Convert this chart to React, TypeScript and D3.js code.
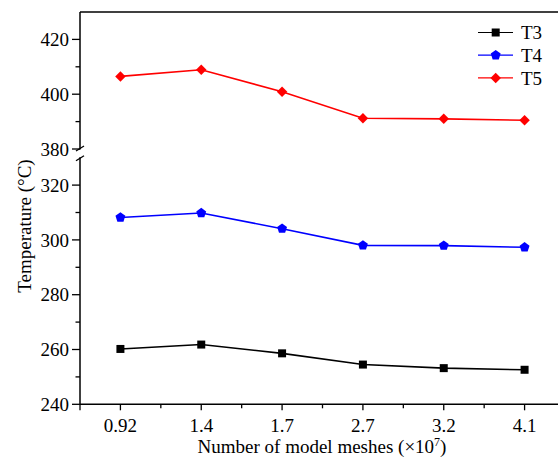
import React from "react";
import * as d3 from "d3";

const categories = ["0.92", "1.4", "1.7", "2.7", "3.2", "4.1"];
const seriesNames = ["T3", "T4", "T5"];
const t3 = [260.2, 261.8, 258.6, 254.5, 253.2, 252.6];
const t4 = [308.2, 309.8, 304.1, 298.0, 297.9, 297.3];
const t5 = [406.5, 408.9, 400.9, 391.2, 391.0, 390.5];
const upperTicks = [380, 400, 420];
const lowerTicks = [240, 260, 280, 300, 320];
const upperMinor = [390, 410];
const lowerMinor = [250, 270, 290, 310];

const W = 558;
const H = 460;
const FONT = "'Liberation Serif', 'Times New Roman', serif";

export default function App() {
  const left = 80;
  const top = 12;
  const bottom = 404.3;
  const breakTop = 149;
  const breakBottom = 157.7;

  const x = d3.scalePoint<string>().domain(categories).range([left, left + 485]).padding(0.5);
  const step = x.step();
  const yU = d3.scaleLinear().domain([380, 430]).range([breakTop, top]);
  const yL = d3.scaleLinear().domain([240, 330]).range([bottom, breakBottom]);

  const series = [
    { name: seriesNames[0], values: t3, color: "#000000", scale: yL, marker: "square" },
    { name: seriesNames[1], values: t4, color: "#0000ff", scale: yL, marker: "pentagon" },
    { name: seriesNames[2], values: t5, color: "#ff0000", scale: yU, marker: "diamond" },
  ];

  const symbolPath = (m: string) => {
    if (m === "square") return d3.symbol(d3.symbolSquare, 64)();
    if (m === "diamond") return d3.symbol(d3.symbolDiamond2, 70)();
    // pentagon
    const r = 5.2;
    const pts = d3.range(5).map((i) => {
      const a = -Math.PI / 2 + (i * 2 * Math.PI) / 5;
      return [r * Math.cos(a), r * Math.sin(a)] as [number, number];
    });
    return "M" + pts.map((p) => p.join(",")).join("L") + "Z";
  };

  const line = (s: any) =>
    d3
      .line<number>()
      .x((_, i) => x(categories[i]) as number)
      .y((v) => s.scale(v))(s.values) as string;

  const minorX = categories.map((c) => (x(c) as number) + step / 2).filter((v) => v < W);

  return (
    <svg width={W} height={H} style={{ position: "absolute", left: 0, top: 0, background: "#fff" }} fontFamily={FONT}>
      <rect width={W} height={H} fill="#fff" />
      {/* frame */}
      <line x1={left} x2={W} y1={top} y2={top} stroke="#000" strokeWidth={1.5} />
      <line x1={left} x2={W} y1={bottom} y2={bottom} stroke="#000" strokeWidth={1.5} />
      <line x1={left} x2={left} y1={top} y2={breakTop + 0.5} stroke="#000" strokeWidth={1.5} />
      <line x1={left} x2={left} y1={breakBottom - 0.5} y2={bottom} stroke="#000" strokeWidth={1.5} />
      {/* break marks */}
      <line x1={left - 4} x2={left + 4} y1={breakTop + 2} y2={breakTop - 3} stroke="#000" strokeWidth={1.3} />
      <line x1={left - 4} x2={left + 4} y1={breakBottom + 3} y2={breakBottom - 2} stroke="#000" strokeWidth={1.3} />

      {/* y ticks upper */}
      {upperTicks.map((t) => (
        <g key={"u" + t}>
          <line x1={left - 8} x2={left} y1={yU(t)} y2={yU(t)} stroke="#000" strokeWidth={1.3} />
          <text x={left - 11} y={yU(t)} dy="0.35em" textAnchor="end" fontSize={19}>
            {t}
          </text>
        </g>
      ))}
      {upperMinor.map((t) => (
        <line key={"um" + t} x1={left - 4.5} x2={left} y1={yU(t)} y2={yU(t)} stroke="#000" strokeWidth={1.3} />
      ))}
      {lowerTicks.map((t) => (
        <g key={"l" + t}>
          <line x1={left - 8} x2={left} y1={yL(t)} y2={yL(t)} stroke="#000" strokeWidth={1.3} />
          <text x={left - 11} y={yL(t)} dy="0.35em" textAnchor="end" fontSize={19}>
            {t}
          </text>
        </g>
      ))}
      {lowerMinor.map((t) => (
        <line key={"lm" + t} x1={left - 4.5} x2={left} y1={yL(t)} y2={yL(t)} stroke="#000" strokeWidth={1.3} />
      ))}

      {/* x ticks */}
      {categories.map((c) => (
        <g key={"x" + c}>
          <line x1={x(c)} x2={x(c)} y1={bottom} y2={bottom + 6} stroke="#000" strokeWidth={1.3} />
          <text x={x(c)} y={bottom + 28} textAnchor="middle" fontSize={19}>
            {c}
          </text>
        </g>
      ))}
      {minorX.map((v, i) => (
        <line key={"xm" + i} x1={v} x2={v} y1={bottom} y2={bottom + 4} stroke="#000" strokeWidth={1.3} />
      ))}
      <line x1={left} x2={left} y1={bottom} y2={bottom + 6} stroke="#000" strokeWidth={1.3} />

      {/* axis titles */}
      <text x={322} y={453} textAnchor="middle" fontSize={19}>
        Number of model meshes (×10
        <tspan dy={-7} fontSize={12}>7</tspan>
        <tspan dy={7}>)</tspan>
      </text>
      <text transform="translate(31,226) rotate(-90)" textAnchor="middle" fontSize={19}>
        Temperature (°C)
      </text>

      {/* series */}
      {series.map((s) => (
        <g key={s.name}>
          <path d={line(s)} fill="none" stroke={s.color} strokeWidth={1.6} />
          {s.values.map((v, i) => (
            <path
              key={i}
              d={symbolPath(s.marker)}
              transform={`translate(${x(categories[i])},${s.scale(v)})`}
              fill={s.color}
            />
          ))}
        </g>
      ))}

      {/* legend */}
      {series.map((s, i) => {
        const ly = 32.5 + i * 22.7;
        return (
          <g key={"lg" + s.name}>
            <line x1={478} x2={513} y1={ly} y2={ly} stroke={s.color} strokeWidth={1.2} />
            <path d={symbolPath(s.marker)} transform={`translate(${495.7},${ly})`} fill={s.color} />
            <text x={521} y={ly} dy="0.35em" fontSize={19}>
              {s.name}
            </text>
          </g>
        );
      })}
    </svg>
  );
}
